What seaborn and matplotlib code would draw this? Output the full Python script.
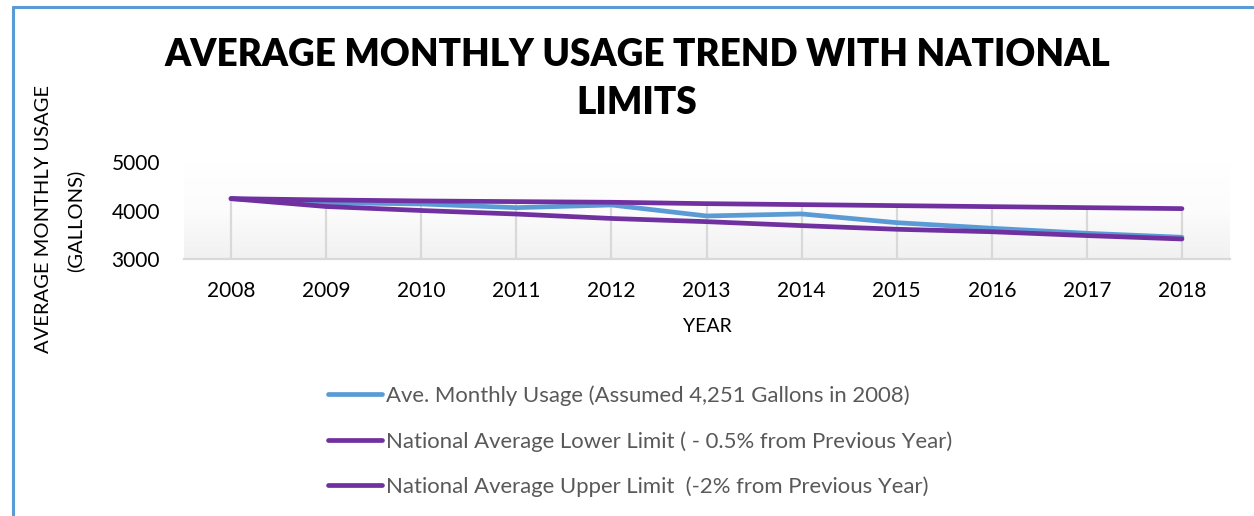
import numpy as np
import pandas as pd
import matplotlib.pyplot as plt
import seaborn as sns
from matplotlib.lines import Line2D
from matplotlib.colors import LinearSegmentedColormap

years = [2008, 2009, 2010, 2011, 2012, 2013, 2014, 2015, 2016, 2017, 2018]
usage = [4251, 4168, 4141, 4064, 4120, 3892, 3934, 3753, 3637, 3533, 3450]
lower_limit = [4251, 4224, 4203, 4189, 4176, 4147, 4127, 4106, 4085, 4064, 4044]
upper_limit = [4251, 4088, 4005, 3932, 3840, 3774, 3692, 3616, 3565, 3485, 3415]
series_names = ['Ave. Monthly Usage (Assumed 4,251 Gallons in 2008)',
                'National Average Lower Limit ( - 0.5% from Previous Year)',
                'National Average Upper Limit  (-2% from Previous Year)']
y_ticks = [3000, 4000, 5000]

BLUE = '#5B9BD5'
PURPLE = '#7030A0'
GRID = '#d9d9d9'

sns.set_theme(style='white')
plt.rcParams['font.family'] = ['Lato', 'DejaVu Sans']

W, H = 1254, 516
fig = plt.figure(figsize=(W / 100, H / 100), dpi=100)
ax = fig.add_axes([183.5 / W, 1 - 259 / H, 1046 / W, 96.5 / H])

df = pd.DataFrame({'Year': years, series_names[0]: usage,
                   series_names[1]: lower_limit, series_names[2]: upper_limit})
df = df.melt(id_vars='Year', var_name='Series', value_name='Gallons')

# gradient plot area
grad = LinearSegmentedColormap.from_list('g', ['#ffffff', '#fcfcfc', '#f1f1f1'])
ax.imshow(np.linspace(0, 1, 256).reshape(-1, 1), cmap=grad, aspect='auto',
          extent=[2007.5, 2018.5, 3000, 5000], zorder=0)

# drop lines from highest series to axis
top = np.max([usage, lower_limit, upper_limit], axis=0)
ax.vlines(years, 3000, top, color=GRID, lw=1.6, zorder=1)

sns.lineplot(data=df, x='Year', y='Gallons', hue='Series', hue_order=series_names,
             palette=[BLUE, PURPLE, PURPLE], linewidth=3.4, ax=ax, legend=False,
             zorder=3)
for ln in ax.get_lines():
    ln.set_solid_capstyle('round')
    ln.set_solid_joinstyle('round')

ax.set_xlim(2007.5, 2018.5)
ax.set_ylim(3000, 5000)
ax.set_xticks(years)
ax.set_xticklabels([str(y) for y in years], fontsize=15, color='black')
ax.set_yticks(y_ticks)
ax.set_yticklabels([str(v) for v in y_ticks], fontsize=15, color='black')
ax.tick_params(axis='x', length=0, pad=16)
ax.tick_params(axis='y', length=0, pad=17)
ax.set_xlabel(None)
ax.set_ylabel(None)
for s in ['top', 'right', 'left']:
    ax.spines[s].set_visible(False)
ax.spines['bottom'].set_color(GRID)
ax.spines['bottom'].set_linewidth(1.6)

# titles and axis labels
fig.text(637 / W, 1 - 55 / H, 'AVERAGE MONTHLY USAGE TREND WITH NATIONAL',
         ha='center', va='center', fontsize=26.6, weight='heavy', color='black')
fig.text(637 / W, 1 - 103 / H, 'LIMITS', ha='center', va='center',
         fontsize=26.6, weight='heavy', color='black')
fig.text(707 / W, 1 - 327 / H, 'YEAR', ha='center', va='center', fontsize=14, color='black')
fig.text(44 / W, 1 - 219 / H, 'AVERAGE MONTHLY USAGE', rotation=90,
         ha='center', va='center', fontsize=14.5, color='black')
fig.text(75 / W, 1 - 221 / H, '(GALLONS)', rotation=90,
         ha='center', va='center', fontsize=14.5, color='black')

handles = [Line2D([], [], color=c, lw=3.4, solid_capstyle='round')
           for c in [BLUE, PURPLE, PURPLE]]
leg = fig.legend(handles, series_names, loc='upper left',
                 bbox_to_anchor=(328 / W, 1 - 385.5 / H), frameon=False,
                 fontsize=15.9, handlelength=2.45, handletextpad=0.18,
                 labelspacing=1.13, borderaxespad=0, borderpad=0)
for t in leg.get_texts():
    t.set_color('#595959')

# chart border (blue frame)
fig.add_artist(Line2D([12.5 / W, 12.5 / W], [0, 1 - 6.5 / H],
                      transform=fig.transFigure, color=BLUE, lw=2.2))
fig.add_artist(Line2D([12.5 / W, 1], [1 - 6.5 / H, 1 - 6.5 / H],
                      transform=fig.transFigure, color=BLUE, lw=2.2))

fig.savefig('out.png', dpi=100)
